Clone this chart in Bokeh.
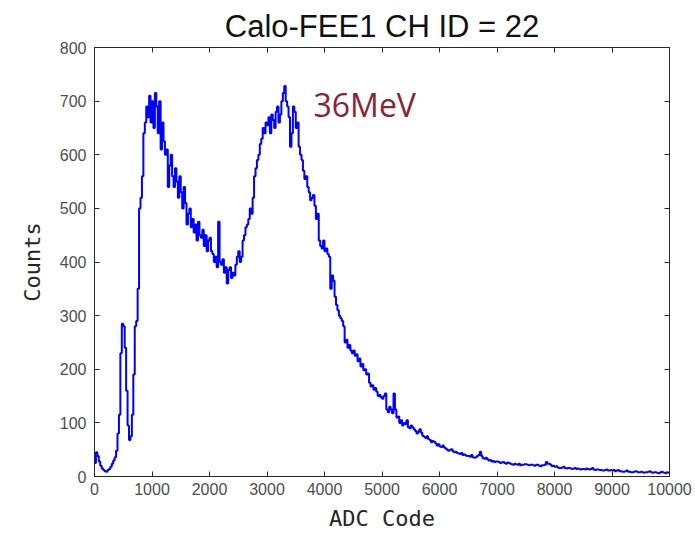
from bokeh.plotting import figure
from bokeh.models import (LinearAxis, Range1d, FixedTicker, Label,
                          CustomJSTickFormatter)
from bokeh.embed import file_html
from bokeh.resources import INLINE

# ---- data (ADC bins of width 25, counts) ----
bin_width = 25
counts_0_2500 = [
    25, 45, 38, 28, 20, 15, 12, 10, 9, 12, 14, 18, 24, 30, 36, 48, 80, 115, 230, 285,
    280, 240, 160, 95, 68, 75, 115, 190, 280, 290, 350, 500, 520, 560, 640, 660, 690, 670, 710, 660,
    700, 650, 715, 690, 640, 700, 610, 660, 625, 600, 610, 540, 580, 600, 560, 540, 575, 550, 520, 560,
    530, 500, 540, 510, 470, 490, 500, 465, 480, 455, 470, 440, 475, 450, 445, 460, 430, 450, 420, 440,
    445, 420, 415, 400, 410, 390, 475, 400, 395, 405, 380, 390, 360, 385, 390, 370, 380, 375, 395, 410,
]
counts_2500_5000 = [
    420, 400, 410, 440, 450, 465, 470, 480, 500, 490, 520, 560, 575, 590, 600, 620, 630, 650, 640, 660,
    655, 670, 640, 675, 665, 650, 680, 690, 660, 675, 700, 715, 728, 700, 690, 670, 615, 640, 690, 680,
    650, 660, 615, 600, 590, 570, 555, 560, 540, 530, 515, 520, 525, 505, 480, 490, 440, 430, 425, 440,
    420, 425, 415, 410, 350, 375, 365, 335, 320, 310, 300, 295, 290, 280, 250, 255, 240, 245, 235, 230,
    235, 225, 228, 215, 220, 205, 210, 198, 200, 190, 192, 175, 168, 170, 162, 165, 158, 150, 152, 148,
]
counts_5000_7500 = [
    145, 150, 155, 125, 120, 130, 125, 118, 155, 125, 110, 112, 100, 105, 95, 100, 98, 105, 92, 90,
    95, 92, 88, 85, 80, 84, 88, 82, 76, 74, 72, 75, 70, 68, 64, 66, 65, 62, 58, 60,
    56, 55, 58, 54, 52, 50, 48, 50, 51, 47, 45, 46, 44, 43, 42, 44, 40, 41, 39, 38,
    38, 37, 40, 36, 35, 36, 38, 40, 46, 38, 34, 33, 35, 32, 30, 31, 28, 29, 27, 28,
    28, 27, 25, 26, 27, 25, 24, 26, 25, 24, 23, 22, 24, 23, 22, 24, 21, 22, 22, 23,
]
counts_7500_10000 = [
    23, 22, 21, 22, 22, 21, 20, 22, 22, 20, 19, 21, 21, 22, 27, 24, 24, 22, 19, 20,
    18, 19, 17, 16, 16, 17, 18, 16, 15, 16, 16, 15, 14, 15, 16, 14, 15, 14, 13, 14,
    14, 13, 15, 14, 13, 14, 16, 13, 12, 13, 13, 12, 12, 11, 11, 12, 13, 11, 11, 12,
    11, 12, 10, 11, 12, 10, 10, 9, 9, 10, 11, 9, 9, 8, 8, 9, 10, 9, 8, 8,
    9, 8, 7, 8, 8, 9, 10, 8, 7, 8, 8, 7, 6, 7, 9, 8, 7, 6, 8, 7,
]
counts = counts_0_2500 + counts_2500_5000 + counts_5000_7500 + counts_7500_10000
x_ticks = [0, 1000, 2000, 3000, 4000, 5000, 6000, 7000, 8000, 9000, 10000]
y_ticks = [0, 100, 200, 300, 400, 500, 600, 700, 800]
title_text = "Calo-FEE1 CH ID = 22"
x_label = "ADC Code"
y_label = "Counts"
note_text = "36MeV"
note_x, note_y = 3809, 694

edges = [i * bin_width for i in range(len(counts) + 1)]
step_y = counts + [counts[-1]]

AX = "#262626"
TL = "#4d4d4d"

p = figure(width=695, height=534, output_backend="svg", toolbar_location=None,
           x_range=Range1d(0, 10000), y_range=Range1d(0, 800),
           x_axis_location=None, y_axis_location=None,
           min_border_left=94, min_border_right=26,
           min_border_top=47, min_border_bottom=58)
p.grid.visible = False
p.outline_line_color = AX
p.background_fill_color = "white"
p.border_fill_color = "white"

p.title.text = title_text
p.title.align = "center"
p.title.text_font = "Liberation Sans"
p.title.text_font_size = "31px"
p.title.text_font_style = "normal"
p.title.text_color = "#111111"
p.title.standoff = 8

def style(ax, labels=True):
    ax.major_tick_in = 5
    ax.major_tick_out = 0
    ax.minor_tick_line_color = None
    ax.axis_line_color = AX
    ax.major_tick_line_color = AX
    ax.major_label_text_font = "Liberation Sans"
    ax.major_label_text_font_size = "16px"
    ax.major_label_text_color = TL
    if not labels:
        ax.formatter = CustomJSTickFormatter(code="return ''")
        ax.major_label_standoff = 0
        ax.major_label_text_font_size = "0px"

xb = LinearAxis(ticker=FixedTicker(ticks=x_ticks), axis_label=x_label)
style(xb)
xb.major_label_standoff = 6
xb.axis_label_standoff = 8
xb.axis_label_text_font = "DejaVu Sans Mono"
xb.axis_label_text_font_size = "22px"
xb.axis_label_text_font_style = "normal"
xb.axis_label_text_color = "#262626"
p.add_layout(xb, "below")

yl = LinearAxis(ticker=FixedTicker(ticks=y_ticks), axis_label=y_label)
style(yl)
yl.major_label_standoff = 8
yl.axis_label_standoff = 12
yl.axis_label_text_font = "DejaVu Sans Mono"
yl.axis_label_text_font_size = "22px"
yl.axis_label_text_font_style = "normal"
yl.axis_label_text_color = "#262626"
p.add_layout(yl, "left")

xt = LinearAxis(ticker=FixedTicker(ticks=x_ticks))
style(xt, labels=False)
p.add_layout(xt, "above")

yr = LinearAxis(ticker=FixedTicker(ticks=y_ticks))
style(yr, labels=False)
p.add_layout(yr, "right")

p.step(x=edges, y=step_y, mode="after", line_color="#0000ff", line_width=2)

p.add_layout(Label(x=note_x, y=note_y, text=note_text, text_align="left",
                   text_baseline="alphabetic", text_font="Open Sans",
                   text_font_size="32px", text_color="#8b2332"))

open("out.html", "w").write(file_html(p, INLINE))
